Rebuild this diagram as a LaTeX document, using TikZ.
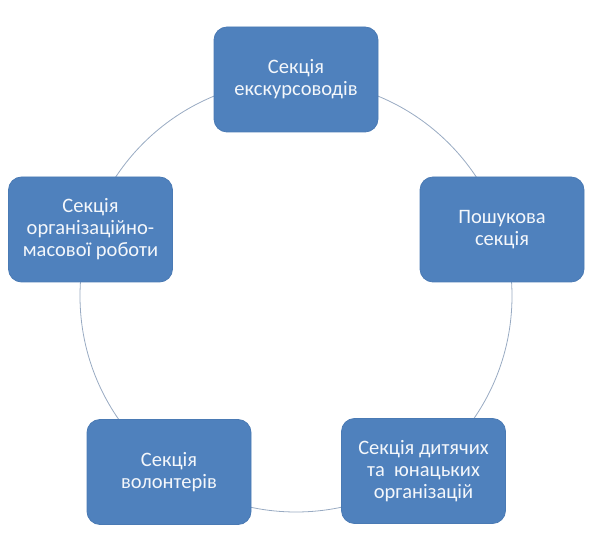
\documentclass[tikz,border=0pt]{standalone}
\usepackage{fontspec}
\setmainfont{Carlito}
\begin{document}
\begin{tikzpicture}[x=1pt,y=-1pt,
  secbox/.style={rectangle, rounded corners=13pt, fill=boxblue, draw=boxedge, line width=0.8pt,
    minimum width=164pt, minimum height=105pt, inner sep=0pt,
    text=boxtext, align=center, font=\fontsize{20.5}{22}\selectfont},
  ring/.style={draw=ringgray, line width=0.8pt}]
\definecolor{boxblue}{HTML}{4F81BD}
\definecolor{boxedge}{HTML}{4A7AB4}
\definecolor{boxtext}{HTML}{F4F7FB}
\definecolor{ringgray}{HTML}{98AAC2}
\useasboundingbox (0,0) rectangle (589,553);
\coordinate (c) at (296,296);
\draw[ring] (c) circle[radius=216pt];
\node[secbox] (top) at (296,79.5) {Секція\\екскурсоводів};
\node[secbox] (right) at (502,229.5) {Пошукова\\секція};
\node[secbox] (bright) at (423.5,471) {Секція дитячих\\та\ \ юнацьких\\організацій};
\node[secbox] (bleft) at (169,472) {Секція\\волонтерів};
\node[secbox] (left) at (90.5,229.5) {Секція\\організаційно-\\масової роботи};
\end{tikzpicture}
\end{document}
